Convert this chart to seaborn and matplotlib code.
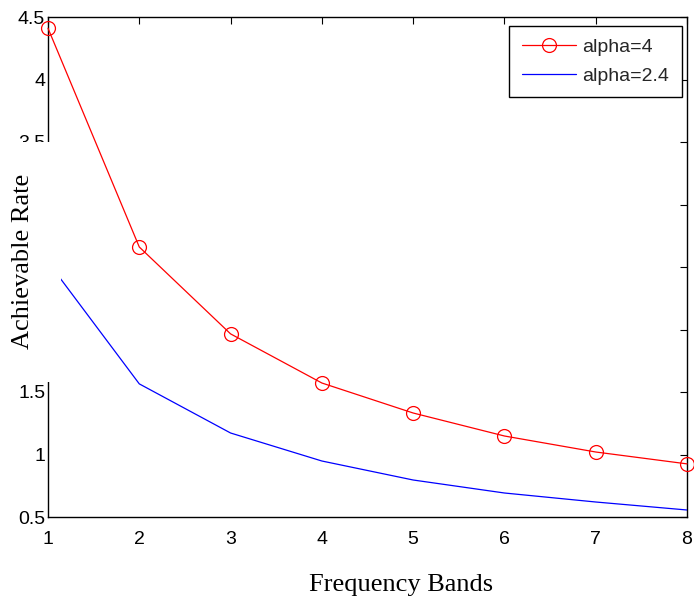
import matplotlib
matplotlib.use("Agg")
import matplotlib.pyplot as plt
import seaborn as sns
from matplotlib.patches import Rectangle

bands = [1, 2, 3, 4, 5, 6, 7, 8]
rate_alpha4 = [4.41, 2.66, 1.965, 1.572, 1.332, 1.148, 1.02, 0.925]
rate_alpha24 = [2.54, 1.565, 1.172, 0.948, 0.796, 0.692, 0.62, 0.556]
series_labels = ["alpha=4", "alpha=2.4"]
x_ticks = [1, 2, 3, 4, 5, 6, 7, 8]
y_ticks = [0.5, 1, 1.5, 2, 2.5, 3, 3.5, 4, 4.5]
# tick labels 2, 2.5 and 3 sit behind the y-label's white box in the reference
y_ticklabels = ["0.5", "1", "1.5", "", "", "", "3.5", "4", "4.5"]

sns.set_theme(style="white")
plt.rcParams["font.family"] = ["Liberation Sans", "DejaVu Sans"]

W, H = 694, 599
fig = plt.figure(figsize=(W / 100, H / 100), dpi=100)
ax = fig.add_axes([48 / W, 1 - 517 / H, (687 - 48) / W, (517 - 17) / H])

sns.lineplot(x=bands, y=rate_alpha4, ax=ax, color="red", lw=0.9,
             marker="o", markersize=10, markerfacecolor="none",
             markeredgecolor="red", markeredgewidth=0.9,
             label=series_labels[0], clip_on=False, zorder=3)
sns.lineplot(x=bands, y=rate_alpha24, ax=ax, color="blue", lw=0.9,
             label=series_labels[1], zorder=3)

ax.set_xlim(1, 8)
ax.set_ylim(0.5, 4.5)
ax.set_xticks(x_ticks)
ax.set_xticklabels([str(t) for t in x_ticks])
ax.set_yticks(y_ticks)
ax.set_yticklabels(y_ticklabels)
ax.tick_params(direction="in", length=5, width=0.8, colors="black",
               labelsize=14, top=True, right=True)
ax.tick_params(axis="y", pad=2)
ax.tick_params(axis="x", pad=10)
for s in ax.spines.values():
    s.set_color("black")
    s.set_linewidth(1.0)
    s.set_visible(True)

ax.set_xlabel("Frequency Bands", family="Liberation Serif", fontsize=19,
              color="black")
ax.xaxis.set_label_coords(0.552, -0.115)
ax.set_ylabel("")

leg = ax.legend(loc="upper right", bbox_to_anchor=(0.992, 0.982),
                borderaxespad=0, frameon=True, fancybox=False,
                fontsize=14, handlelength=2.75, handletextpad=0.35,
                borderpad=0.65, labelspacing=0.55)
leg.get_frame().set_edgecolor("black")
leg.get_frame().set_linewidth(1.0)
leg.get_frame().set_facecolor("white")
leg.get_frame().set_alpha(1)

# white box behind rotated y label (as in the reference)
fig.add_artist(Rectangle((0, 1 - 382 / H), 61 / W, (382 - 142) / H,
                         transform=fig.transFigure, facecolor="white",
                         edgecolor="none", zorder=10))
fig.text(23 / W, 1 - 261 / H, "Achievable Rate", rotation=90,
         ha="center", va="center", family="Liberation Serif",
         fontsize=19, color="black", zorder=11)

fig.savefig("out.png", dpi=100, facecolor="white")
